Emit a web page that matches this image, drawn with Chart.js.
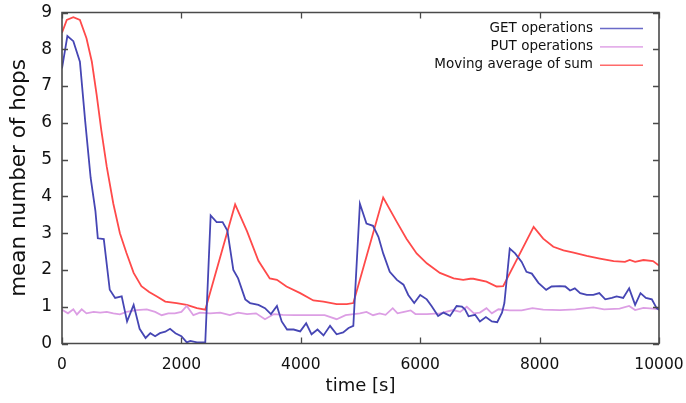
<!DOCTYPE html>
<html>

<head>
    <script src="https://cdn.jsdelivr.net/npm/chart.js"></script>
    <style>
        html,
        body {
            margin: 0px;
            background: #fff;
        }

        .container {
            width: 686px;
            height: 403px;
        }
    </style>
</head>

<body>
    <div class="container">
        <canvas id="hopsChart"></canvas>
    </div>

    <script>

        // time axis and tick values
        const xTicks = [0, 2000, 4000, 6000, 8000, 10000];
        const yTicks = [0, 1, 2, 3, 4, 5, 6, 7, 8, 9];

        // GET operations
        const getTime = [0, 90, 190, 300, 390, 480, 560, 600, 700, 800, 890, 1000, 1090, 1200, 1300, 1400, 1480, 1560, 1640, 1730,
            1810, 1900, 2000, 2090, 2150, 2260, 2400, 2490, 2590, 2690, 2770, 2870, 2950, 3070, 3150, 3290, 3400, 3500, 3600, 3680,
            3770, 3880, 3990, 4090, 4180, 4280, 4380, 4490, 4600, 4710, 4800, 4880, 4990, 5100, 5210, 5300, 5380, 5490, 5610, 5720,
            5800, 5900, 6000, 6110, 6190, 6300, 6390, 6500, 6610, 6700, 6750, 6810, 6920, 7000, 7100, 7200, 7290, 7370, 7410, 7500,
            7590, 7700, 7780, 7870, 7980, 8110, 8200, 8340, 8430, 8510, 8590, 8680, 8790, 8900, 9000, 9100, 9210, 9290, 9400, 9500,
            9600, 9690, 9780, 9880, 9960, 10000];
        const getHops = [7.48, 8.36, 8.22, 7.66, 6.02, 4.5, 3.6, 2.86, 2.84, 1.46, 1.24, 1.28, 0.6, 1.05, 0.4, 0.15, 0.28, 0.2, 0.28, 0.32,
            0.4, 0.28, 0.2, 0.03, 0.07, 0.03, 0.03, 3.48, 3.3, 3.3, 3.07, 2.0, 1.77, 1.2, 1.1, 1.05, 0.96, 0.8, 1.02, 0.6,
            0.38, 0.38, 0.33, 0.55, 0.25, 0.38, 0.22, 0.48, 0.25, 0.3, 0.42, 0.48, 3.8, 3.26, 3.2, 2.9, 2.45, 1.95, 1.73, 1.6,
            1.32, 1.1, 1.32, 1.2, 1.02, 0.75, 0.84, 0.75, 1.02, 1.0, 0.93, 0.74, 0.78, 0.6, 0.72, 0.6, 0.58, 0.84, 1.1, 2.58,
            2.45, 2.22, 1.95, 1.9, 1.65, 1.46, 1.55, 1.56, 1.55, 1.44, 1.5, 1.37, 1.32, 1.32, 1.37, 1.2, 1.24, 1.28, 1.24, 1.5,
            1.05, 1.37, 1.24, 1.2, 0.96, 0.92];

        // PUT operations
        const putTime = [0, 100, 190, 250, 330, 410, 530, 640, 750, 860, 970, 1080, 1250, 1420, 1560, 1670, 1780, 1890, 2000, 2090,
            2200, 2310, 2480, 2650, 2810, 2950, 3100, 3250, 3400, 3550, 3700, 3900, 4100, 4400, 4600, 4750, 4990, 5100, 5210, 5320,
            5420, 5540, 5620, 5730, 5840, 5920, 6110, 6330, 6550, 6670, 6780, 6900, 7000, 7110, 7200, 7310, 7500, 7700, 7880, 8060,
            8340, 8600, 8900, 9080, 9340, 9500, 9600, 9740, 9900, 10000];
        const putHops = [0.92, 0.82, 0.93, 0.79, 0.93, 0.82, 0.86, 0.84, 0.86, 0.82, 0.79, 0.86, 0.91, 0.93, 0.86, 0.77, 0.82, 0.82, 0.86, 1.02,
            0.77, 0.84, 0.82, 0.84, 0.77, 0.84, 0.8, 0.82, 0.66, 0.8, 0.78, 0.77, 0.77, 0.77, 0.66, 0.77, 0.82, 0.86, 0.77, 0.82,
            0.78, 0.96, 0.82, 0.86, 0.9, 0.8, 0.8, 0.82, 0.91, 0.86, 1.0, 0.82, 0.84, 0.96, 0.82, 0.93, 0.9, 0.9, 0.96, 0.92,
            0.91, 0.93, 0.98, 0.93, 0.95, 1.02, 0.91, 0.97, 0.95, 0.93];

        // moving average of GET + PUT
        const avgTime = [0, 80, 190, 300, 410, 500, 580, 660, 750, 860, 970, 1080, 1200, 1330, 1460, 1590, 1730, 1920, 2090, 2260,
            2400, 2900, 3100, 3290, 3480, 3600, 3760, 3990, 4210, 4380, 4600, 4770, 4880, 5380, 5610, 5770, 5940, 6110, 6330, 6560,
            6720, 6840, 6890, 7110, 7280, 7390, 7900, 8060, 8230, 8400, 8570, 8790, 9010, 9240, 9430, 9510, 9600, 9740, 9900, 10000];
        const avgHops = [8.45, 8.8, 8.87, 8.8, 8.3, 7.66, 6.77, 5.78, 4.8, 3.8, 3.0, 2.46, 1.92, 1.56, 1.4, 1.28, 1.14, 1.1, 1.05, 0.96,
            0.92, 3.78, 3.05, 2.25, 1.77, 1.73, 1.55, 1.37, 1.17, 1.14, 1.07, 1.07, 1.1, 3.97, 3.3, 2.85, 2.45, 2.18, 1.92, 1.77,
            1.73, 1.76, 1.76, 1.68, 1.55, 1.56, 3.17, 2.85, 2.63, 2.53, 2.47, 2.38, 2.31, 2.24, 2.22, 2.27, 2.22, 2.27, 2.24, 2.12];

        const points = (xs, ys) => xs.map((x, i) => ({ x: x, y: ys[i] }));

        const fontFamily = "'DejaVu Sans', sans-serif";
        const frameColor = "#4a4a4a";

        // gnuplot style frame with inward ticks on all four sides, plus right aligned key
        const framePlugin = {
            id: 'frame',
            afterDraw(chart) {
                const ctx = chart.ctx;
                const xs = chart.scales.x;
                const ys = chart.scales.y;
                const left = xs.getPixelForValue(0);
                const right = xs.getPixelForValue(10000);
                const top = ys.getPixelForValue(9);
                const bottom = ys.getPixelForValue(0);
                const len = 6;
                ctx.save();
                ctx.strokeStyle = frameColor;
                ctx.lineWidth = 1.6;
                ctx.beginPath();
                ctx.rect(left, top, right - left, bottom - top);
                ctx.stroke();
                ctx.lineWidth = 1.3;
                ctx.beginPath();
                xTicks.forEach(v => {
                    const px = Math.round(xs.getPixelForValue(v)) + 0.5;
                    ctx.moveTo(px, bottom);
                    ctx.lineTo(px, bottom - len);
                    ctx.moveTo(px, top);
                    ctx.lineTo(px, top + len);
                });
                yTicks.forEach(v => {
                    const py = Math.round(ys.getPixelForValue(v)) + 0.5;
                    ctx.moveTo(left, py);
                    ctx.lineTo(left + len, py);
                    ctx.moveTo(right, py);
                    ctx.lineTo(right - len, py);
                });
                ctx.stroke();

                // key
                ctx.font = "13.5px " + fontFamily;
                ctx.textAlign = "right";
                ctx.textBaseline = "middle";
                ctx.lineWidth = 1.6;
                chart.data.datasets.forEach((ds, i) => {
                    const y = 28 + i * 18.4;
                    ctx.fillStyle = "#111";
                    ctx.fillText(ds.label, 593, y);
                    ctx.strokeStyle = ds.keyColor;
                    ctx.beginPath();
                    ctx.moveTo(600, y + 0.5);
                    ctx.lineTo(643, y + 0.5);
                    ctx.stroke();
                });
                ctx.restore();
            }
        };

        var context = document.getElementById('hopsChart').getContext('2d');
        var chart = new Chart(context, {
            type: 'line',
            data: {
                datasets: [
                    {
                        label: 'GET operations',
                        data: points(getTime, getHops),
                        borderColor: '#4646b4',
                        keyColor: '#6a6ac8',
                        borderWidth: 1.8,
                    },
                    {
                        label: 'PUT operations',
                        data: points(putTime, putHops),
                        borderColor: '#dc9ee4',
                        keyColor: '#e4b0ea',
                        borderWidth: 1.8,
                    },
                    {
                        label: 'Moving average of sum',
                        data: points(avgTime, avgHops),
                        borderColor: '#ff4a4a',
                        keyColor: '#ff6a6a',
                        borderWidth: 1.8,
                    },
                ],
            },
            options: {
                responsive: true,
                maintainAspectRatio: false,
                animation: false,
                layout: {
                    padding: { top: 12.5, right: 27, left: 0, bottom: 0 }
                },
                elements: {
                    point: { radius: 0 },
                    line: { tension: 0 }
                },
                plugins: {
                    legend: { display: false },
                    tooltip: { enabled: false },
                },
                scales: {
                    x: {
                        type: 'linear',
                        min: 0,
                        max: 10000,
                        afterBuildTicks: scale => { scale.ticks = xTicks.map(v => ({ value: v })); },
                        afterFit: scale => {
                            scale.height = 59.5;
                            scale.paddingLeft = 0;
                            scale.paddingRight = 0;
                        },
                        grid: { display: false, drawTicks: false },
                        border: { display: false },
                        ticks: {
                            padding: 12,
                            color: '#111',
                            font: { family: fontFamily, size: 15.5 },
                            callback: v => String(v),
                            maxRotation: 0,
                        },
                        title: {
                            display: true,
                            text: 'time [s]',
                            color: '#111',
                            font: { family: fontFamily, size: 18 },
                            padding: { top: 0, bottom: 6 },
                        },
                    },
                    y: {
                        min: 0,
                        max: 9,
                        afterBuildTicks: scale => { scale.ticks = yTicks.map(v => ({ value: v })); },
                        afterFit: scale => {
                            scale.width = 62;
                            scale.paddingTop = 0;
                            scale.paddingBottom = 0;
                        },
                        grid: { display: false, drawTicks: false },
                        border: { display: false },
                        ticks: {
                            padding: 10,
                            color: '#111',
                            font: { family: fontFamily, size: 17 },
                            callback: v => String(v),
                        },
                        title: {
                            display: true,
                            text: 'mean number of hops',
                            color: '#111',
                            font: { family: fontFamily, size: 21.5 },
                            padding: { top: 7, bottom: 0 },
                        },
                    },
                },
            },
            plugins: [framePlugin],
        });

    </script>
</body>

</html>
